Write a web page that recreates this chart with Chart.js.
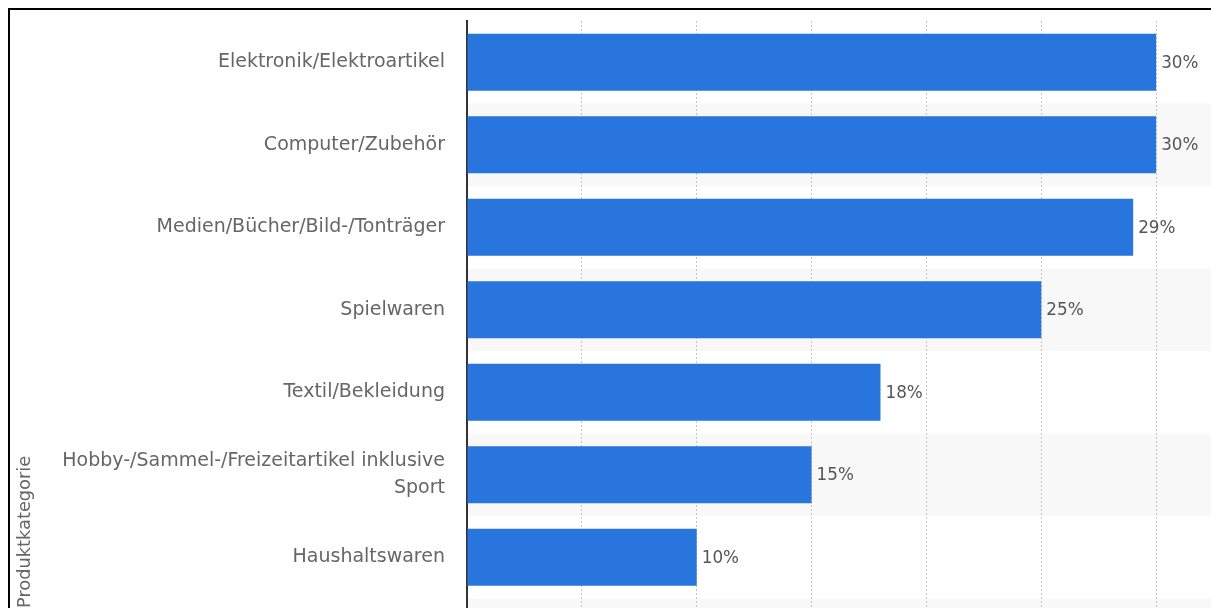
<!DOCTYPE html>
<html><head><meta charset="utf-8">
<script src="https://cdn.jsdelivr.net/npm/chart.js@4.4.1/dist/chart.umd.min.js"></script>
<style>
html,body{margin:0;padding:0;background:#fff;overflow:hidden;width:1211px;height:608px;}
#frame{position:absolute;left:8px;top:8px;right:0;bottom:0;border-left:2px solid #000;border-top:2px solid #000;}
#wrap{position:absolute;left:10px;top:10px;width:1201px;height:598px;overflow:hidden;}
canvas{display:block;}
</style></head><body>
<div id="frame"></div>
<div id="wrap"><canvas id="c" width="1261" height="598"></canvas></div>
<script>
const categories = [
  'Elektronik/Elektroartikel',
  'Computer/Zubehör',
  'Medien/Bücher/Bild-/Tonträger',
  'Spielwaren',
  'Textil/Bekleidung',
  ['Hobby-/Sammel-/Freizeitartikel inklusive', 'Sport'],
  'Haushaltswaren'
];
const values = [30, 30, 29, 25, 18, 15, 10];
const axisTitle = 'Produktkategorie';
const valueSuffix = '%';

// category i is placed at position -i on the vertical value axis (top to bottom)
const pos = i => -i;

const bands = {
  id: 'bands',
  beforeDraw(chart) {
    const {ctx, chartArea: a, scales: {y}} = chart;
    ctx.save();
    ctx.fillStyle = '#f8f8f8';
    for (let i = 1; i < 20; i += 2) {
      const t = y.getPixelForValue(pos(i) + 0.5), b = y.getPixelForValue(pos(i) - 0.5);
      if (t >= a.bottom) break;
      ctx.fillRect(a.left, t, a.right - a.left, Math.min(b, a.bottom) - t);
    }
    ctx.restore();
  }
};

const valueLabels = {
  id: 'valueLabels',
  afterDatasetsDraw(chart) {
    const meta = chart.getDatasetMeta(0);
    const ctx = chart.ctx;
    ctx.save();
    ctx.font = '16.8px "DejaVu Sans"';
    ctx.fillStyle = '#555';
    ctx.textBaseline = 'middle';
    ctx.textAlign = 'left';
    meta.data.forEach((bar, i) => {
      ctx.fillText(values[i] + valueSuffix, bar.x + 5, bar.y + 1);
    });
    ctx.restore();
  }
};

new Chart(document.getElementById('c'), {
  type: 'bar',
  data: {
    datasets: [{
      data: values.map((v, i) => ({x: v, y: pos(i)})),
      backgroundColor: '#2876dd',
      borderWidth: 0,
      barPercentage: 0.69,
      categoryPercentage: 1
    }]
  },
  options: {
    indexAxis: 'y',
    responsive: false,
    animation: false,
    devicePixelRatio: 1,
    layout: {padding: {top: 11, left: 0, right: 0, bottom: 0}},
    plugins: {legend: {display: false}, tooltip: {enabled: false}},
    scales: {
      x: {
        type: 'linear', min: 0, max: 35,
        ticks: {display: false, stepSize: 5},
        grid: {
          color: c => c.tick && c.tick.value === 0 ? 'rgba(0,0,0,0)' : '#c4c4c4',
          lineWidth: 1, drawTicks: false, borderDash: [2, 2]
        },
        border: {display: false, dash: [2, 2]}
      },
      y: {
        type: 'linear', min: -6.615, max: 0.5, offset: false,
        afterBuildTicks: s => { s.ticks = categories.map((_, i) => ({value: pos(i)})); },
        afterFit: s => { s.width = 457; s.paddingTop = 0; s.paddingBottom = 0; },
        ticks: {
          callback: v => categories[-v],
          color: '#666',
          font: {family: 'DejaVu Sans', size: 19, lineHeight: 1.4},
          padding: 22
        },
        grid: {display: false, drawTicks: false},
        border: {display: true, color: '#333', width: 2},
        title: {
          display: true, text: axisTitle, align: 'start', color: '#666',
          font: {family: 'DejaVu Sans', size: 17.8}, padding: {top: 5, bottom: 0}
        }
      }
    }
  },
  plugins: [bands, valueLabels]
});
</script>
</body></html>
